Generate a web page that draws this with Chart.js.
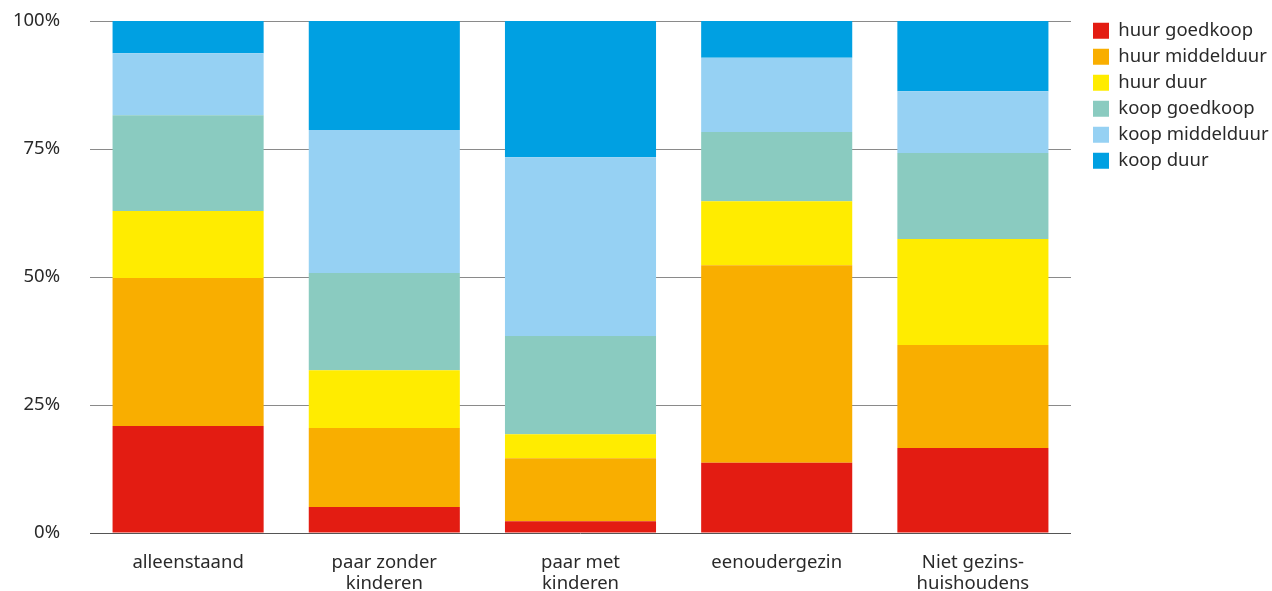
<!DOCTYPE html>
<html>
<head>
<meta charset="utf-8">
<script src="https://cdn.jsdelivr.net/npm/chart.js@4"></script>
<style>
  html, body { margin: 0; padding: 0; background: #fff; }
  #wrap { width: 1272px; height: 591px; }
</style>
</head>
<body>
<div id="wrap"><canvas id="myChart" width="1272" height="591"></canvas></div>
<script>
// categorieën (x-as)
const categories = [
    'alleenstaand',
    ['paar zonder', 'kinderen'],
    ['paar met', 'kinderen'],
    'eenoudergezin',
    ['Niet gezins-', 'huishoudens']
];

// aandelen in procenten per categorie
const huurGoedkoop   = [20.9,  5.1,  2.3, 13.7, 16.6];
const huurMiddelduur = [28.9, 15.4, 12.3, 38.6, 20.1];
const huurDuur       = [13.1, 11.3,  4.7, 12.5, 20.7];
const koopGoedkoop   = [18.7, 19.0, 19.2, 13.5, 16.8];
const koopMiddelduur = [12.1, 27.9, 34.9, 14.5, 12.1];
const koopDuur       = [ 6.3, 21.3, 26.6,  7.2, 13.7];

const yTicks = [0, 25, 50, 75, 100];

const fontFamily = '"Noto Sans", "Open Sans", sans-serif';
const fontSize = 18.5;

// legenda rechts op vaste breedte en positie
const legendPlacement = {
    id: 'legendPlacement',
    beforeLayout(chart) {
        const lg = chart.legend;
        if (lg && !lg._wrapped) {
            const fit = lg.fit.bind(lg);
            lg.fit = function () { fit(); this.width = 201; };
            lg._wrapped = true;
        }
    },
    afterLayout(chart) {
        const lg = chart.legend;
        if (lg) {
            lg.left += 14.5;
            lg.top += 14;
        }
    }
};

new Chart(document.getElementById('myChart'), {
    type: 'bar',
    data: {
        labels: categories,
        datasets: [
            { label: 'huur goedkoop', data: huurGoedkoop, backgroundColor: '#e31c12' },
            { label: 'huur middelduur', data: huurMiddelduur, backgroundColor: '#f9ae00' },
            { label: 'huur duur', data: huurDuur, backgroundColor: '#ffec00' },
            { label: 'koop goedkoop', data: koopGoedkoop, backgroundColor: '#8acbc0' },
            { label: 'koop middelduur', data: koopMiddelduur, backgroundColor: '#96d1f3' },
            { label: 'koop duur', data: koopDuur, backgroundColor: '#00a0e2' }
        ]
    },
    plugins: [legendPlacement],
    options: {
        responsive: false,
        animation: false,
        layout: { padding: 0 },
        datasets: {
            bar: { barPercentage: 0.77, categoryPercentage: 1, borderWidth: 0 }
        },
        scales: {
            x: {
                stacked: true,
                grid: { display: false },
                border: { display: false },
                afterFit: s => { s.height = 58; },
                ticks: {
                    color: '#2a2a2a',
                    font: { family: fontFamily, size: fontSize, lineHeight: 1.15 },
                    padding: 11,
                    maxRotation: 0
                }
            },
            y: {
                stacked: true,
                min: 0,
                max: 100,
                afterBuildTicks: axis => { axis.ticks = yTicks.map(v => ({ value: v })); },
                afterFit: s => { s.width = 90; s.paddingTop = 21; s.paddingBottom = 0; },
                grid: {
                    color: ctx => ctx.tick && ctx.tick.value === 0 ? '#555' : '#8a8a8a',
                    lineWidth: 1,
                    drawTicks: false
                },
                border: { display: false },
                ticks: {
                    color: '#2a2a2a',
                    font: { family: fontFamily, size: fontSize },
                    padding: 30,
                    callback: v => v + '%'
                }
            }
        },
        plugins: {
            legend: {
                position: 'right',
                align: 'start',
                labels: {
                    color: '#2a2a2a',
                    font: { family: fontFamily, size: fontSize },
                    boxWidth: 16,
                    boxHeight: 16,
                    padding: 7.5
                }
            },
            tooltip: { enabled: false }
        }
    }
});
</script>
</body>
</html>
